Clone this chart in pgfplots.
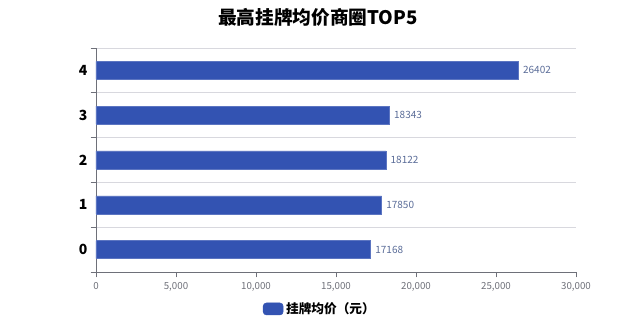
\documentclass[border=0pt]{standalone}
\usepackage{fontspec}
\setmainfont{Noto Sans CJK SC}
\usepackage{pgfplots}
\pgfplotsset{compat=1.18}
\definecolor{barblue}{HTML}{3353B2}
\definecolor{lblblue}{HTML}{5A6C98}
\definecolor{gridgrey}{HTML}{D8D8DE}
\definecolor{axisgrey}{HTML}{6E7079}
\begin{document}
\begin{tikzpicture}[x=0.75pt,y=0.75pt]
\useasboundingbox (0,0) rectangle (640,320);
\node[font=\bfseries\fontsize{14pt}{16pt}\selectfont] at (318,303) {最高挂牌均价商圈TOP5};
\begin{axis}[
  at={(72pt,36pt)}, anchor=south west,
  scale only axis, width=360pt, height=168pt,
  xbar, bar width=13.5pt, bar shift=0pt,
  xmin=0, xmax=30000,
  ymin=-0.5, ymax=4.5,
  xtick={0,5000,...,30000},
  ytick={0,1,2,3,4},
  minor ytick={-0.5,0.5,...,4.5},
  yminorgrids=true,
  minor grid style={gridgrey, line width=0.6pt},
  major tick length=4pt,
  minor tick length=4pt,
  tick align=outside,
  axis x line*=bottom, axis y line*=left,
  axis line style={axisgrey, line width=0.7pt},
  x tick style={axisgrey, line width=0.6pt},
  major y tick style={draw=none},
  minor y tick style={axisgrey, line width=0.6pt},
  /pgf/number format/assume math mode=true,
  xticklabel style={font=\fontsize{7.3pt}{8pt}\selectfont, text=axisgrey, /pgf/number format/.cd, fixed, 1000 sep={,}},
  yticklabel style={font=\bfseries\fontsize{10.5pt}{12pt}\selectfont, text=black, xshift=1pt},
  scaled x ticks=false,
  nodes near coords,
  point meta=explicit symbolic,
  nodes near coords style={font=\fontsize{7.5pt}{8pt}\selectfont, text=lblblue, anchor=west, xshift=0pt},
  legend style={at={(0.467,-0.165)}, anchor=center, draw=none, fill=none,
    font=\bfseries\fontsize{9.5pt}{10pt}\selectfont, legend cell align=left},
  legend image code/.code={\fill[barblue, rounded corners=2.5pt] (0pt,-4.5pt) rectangle (15pt,4.5pt);},
  clip=false,
]
\addplot[fill=barblue, draw=barblue!80!white, line width=0.4pt] coordinates {
  (17168,0) [17168]
  (17850,1) [17850]
  (18122,2) [18122]
  (18343,3) [18343]
  (26402,4) [26402]
};
\addlegendentry{挂牌均价（元）}
\end{axis}
\end{tikzpicture}
\end{document}
